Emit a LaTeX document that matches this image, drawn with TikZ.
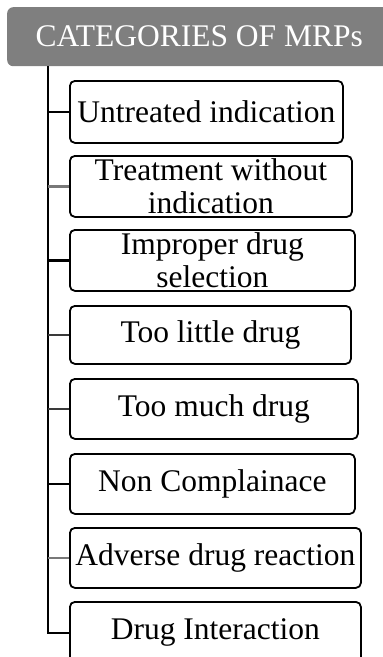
\documentclass[tikz,border=0pt]{standalone}
\usepackage{fontspec}
\setmainfont{Liberation Serif}
\begin{document}
\begin{tikzpicture}[x=1pt,y=-1pt,
  header/.style={draw=none, fill=headgray, rounded corners=6pt, inner sep=0pt,
    text=white, font=\fontsize{31.5}{33}\selectfont, anchor=north west},
  item/.style={draw=black, line width=1.8pt, fill=white, rounded corners=5pt,
    inner sep=0pt, align=center, anchor=north west,
    font=\fontsize{31.5}{32.5}\selectfont},
  trunkline/.style={line width=2.4pt, black},
  branch/.style={line width=2.4pt}]
\definecolor{headgray}{HTML}{7F7F7F}
\definecolor{midgray}{HTML}{787878}
\definecolor{darkbranch}{HTML}{3A3A3A}
\useasboundingbox (0,0) rectangle (383,657);
\clip (0,0) rectangle (383,657);

% title bar
\node[header, minimum width=384pt, minimum height=59pt] (head) at (7,7) {CATEGORIES OF MRPs};

% category boxes
\node[item, minimum width=273pt, minimum height=62pt] (b1) at (69,80) {Untreated indication};
\node[item, minimum width=282pt, minimum height=61pt] (b2) at (69,155) {Treatment without\\indication};
\node[item, minimum width=285pt, minimum height=61pt] (b3) at (69,229) {Improper drug\\selection};
\node[item, minimum width=281pt, minimum height=58pt] (b4) at (69,305) {Too little drug};
\node[item, minimum width=288pt, minimum height=60pt] (b5) at (69,378) {Too much drug};
\node[item, minimum width=285pt, minimum height=60pt] (b6) at (69,453) {Non Complainace};
\node[item, minimum width=291pt, minimum height=60pt] (b7) at (69,527) {Adverse drug reaction};
\node[item, minimum width=291pt, minimum height=62pt] (b8) at (69,601) {Drug Interaction};

% tree connectors
\coordinate (trunk) at (48,66);
\draw[trunkline] (trunk) |- (b8.west);
\draw[branch, black] (b1.west -| trunk) -- (b1.west);
\draw[branch, midgray] (b2.west -| trunk) -- (b2.west);
\draw[branch, black] (b3.west -| trunk) -- (b3.west);
\draw[branch, darkbranch] (b4.west -| trunk) -- (b4.west);
\draw[branch, darkbranch] (b5.west -| trunk) -- (b5.west);
\draw[branch, black] (b6.west -| trunk) -- (b6.west);
\draw[branch, midgray] (b7.west -| trunk) -- (b7.west);
\end{tikzpicture}
\end{document}
